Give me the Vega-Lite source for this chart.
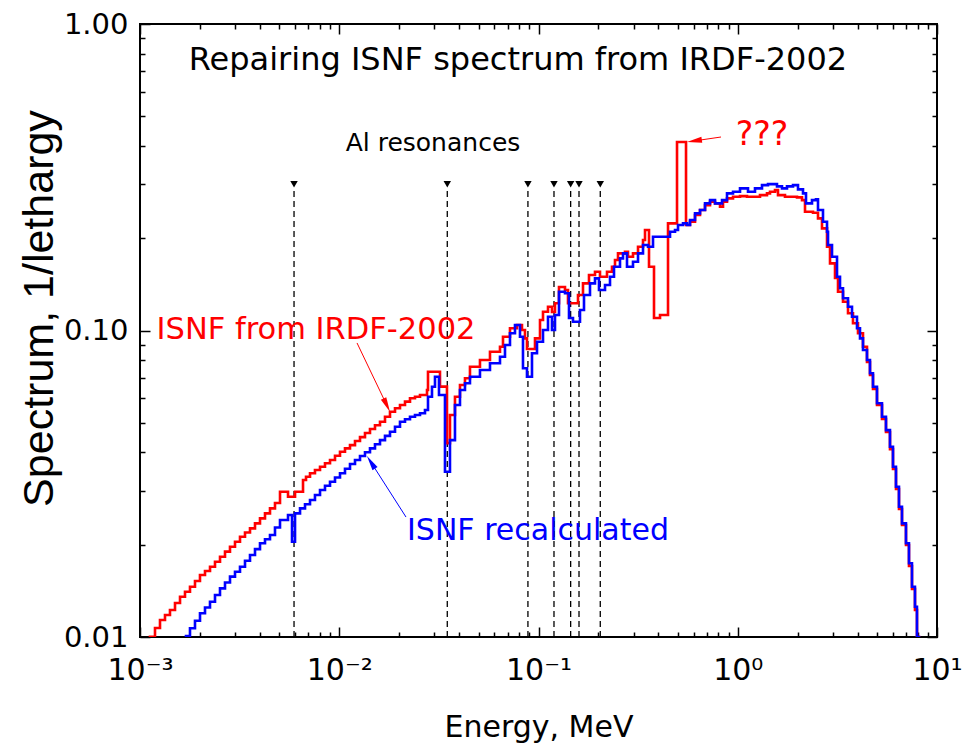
{
  "$schema": "https://vega.github.io/schema/vega-lite/v6.json",
  "width": 797,
  "height": 613,
  "autosize": {"type": "none"},
  "padding": {"left": 140, "top": 24, "right": 27, "bottom": 110},
  "background": "white",
  "config": {
    "view": {"stroke": "black", "strokeWidth": 2},
    "font": "DejaVu Sans"
  },
  "datasets": {
    "red": [
      {"E": 0.00106, "S": 0.00942}, {"E": 0.001122, "S": 0.010023}, {"E": 0.0011893, "S": 0.010699}, {"E": 0.00126, "S": 0.011364},
      {"E": 0.0013349, "S": 0.011795}, {"E": 0.001414, "S": 0.012247}, {"E": 0.0014986, "S": 0.012911}, {"E": 0.001588, "S": 0.013534},
      {"E": 0.001682, "S": 0.014054}, {"E": 0.001782, "S": 0.014589}, {"E": 0.001888, "S": 0.015231}, {"E": 0.0020, "S": 0.015937},
      {"E": 0.0021195, "S": 0.01642}, {"E": 0.002246, "S": 0.01696}, {"E": 0.002379, "S": 0.017606}, {"E": 0.002521, "S": 0.018281},
      {"E": 0.0026706, "S": 0.018987}, {"E": 0.002829, "S": 0.019703}, {"E": 0.0029977, "S": 0.020457}, {"E": 0.003176, "S": 0.021239},
      {"E": 0.003365, "S": 0.021923}, {"E": 0.003565, "S": 0.022623}, {"E": 0.0037773, "S": 0.023488}, {"E": 0.004002, "S": 0.024386},
      {"E": 0.00424, "S": 0.025321}, {"E": 0.004492, "S": 0.02629}, {"E": 0.004759, "S": 0.027359}, {"E": 0.005043, "S": 0.029789},
      {"E": 0.005532, "S": 0.028692}, {"E": 0.005999, "S": 0.029789}, {"E": 0.006579, "S": 0.032524}, {"E": 0.0068112, "S": 0.033342},
      {"E": 0.007133, "S": 0.034203}, {"E": 0.0075536, "S": 0.035053}, {"E": 0.008007, "S": 0.035941}, {"E": 0.008481, "S": 0.036876},
      {"E": 0.008988, "S": 0.037783}, {"E": 0.0095207, "S": 0.039023}, {"E": 0.010087, "S": 0.040211}, {"E": 0.010686, "S": 0.04125},
      {"E": 0.011323, "S": 0.042283}, {"E": 0.011997, "S": 0.043589}, {"E": 0.01271, "S": 0.044902}, {"E": 0.013465, "S": 0.04629},
      {"E": 0.014266, "S": 0.047699}, {"E": 0.015114, "S": 0.049052}, {"E": 0.016014, "S": 0.050398}, {"E": 0.016966, "S": 0.052329},
      {"E": 0.017976, "S": 0.054331}, {"E": 0.019046, "S": 0.055733}, {"E": 0.020178, "S": 0.057137}, {"E": 0.021379, "S": 0.058592},
      {"E": 0.02265, "S": 0.060088}, {"E": 0.023995, "S": 0.060815}, {"E": 0.025424, "S": 0.061596}, {"E": 0.027567, "S": 0.063953},
      {"E": 0.027887, "S": 0.073382}, {"E": 0.032031, "S": 0.0656}, {"E": 0.034726, "S": 0.042923}, {"E": 0.035951, "S": 0.053001},
      {"E": 0.038089, "S": 0.060815}, {"E": 0.040359, "S": 0.066402}, {"E": 0.042757, "S": 0.069833}, {"E": 0.045298, "S": 0.076185},
      {"E": 0.050847, "S": 0.080115}, {"E": 0.057083, "S": 0.085265}, {"E": 0.064079, "S": 0.088527}, {"E": 0.06634, "S": 0.095426},
      {"E": 0.071928, "S": 0.10167}, {"E": 0.077983, "S": 0.10422}, {"E": 0.082625, "S": 0.10038}, {"E": 0.08554, "S": 0.094287},
      {"E": 0.08754, "S": 0.08701}, {"E": 0.096034, "S": 0.094287}, {"E": 0.10175, "S": 0.1082}, {"E": 0.10534, "S": 0.11516},
      {"E": 0.1116, "S": 0.11957}, {"E": 0.11687, "S": 0.1149}, {"E": 0.121, "S": 0.12266}, {"E": 0.12672, "S": 0.13862},
      {"E": 0.13583, "S": 0.13554}, {"E": 0.14061, "S": 0.12266}, {"E": 0.15784, "S": 0.13055}, {"E": 0.16723, "S": 0.14253},
      {"E": 0.17924, "S": 0.15169}, {"E": 0.19211, "S": 0.15549}, {"E": 0.20352, "S": 0.14977}, {"E": 0.22071, "S": 0.15549},
      {"E": 0.23383, "S": 0.16143}, {"E": 0.24208, "S": 0.16976}, {"E": 0.25062, "S": 0.17852}, {"E": 0.27172, "S": 0.18068},
      {"E": 0.28129, "S": 0.17402}, {"E": 0.29804, "S": 0.17852}, {"E": 0.31582, "S": 0.1876}, {"E": 0.33459, "S": 0.19727},
      {"E": 0.34242, "S": 0.21266}, {"E": 0.35861, "S": 0.16143}, {"E": 0.37993, "S": 0.10984}, {"E": 0.40725, "S": 0.11234},
      {"E": 0.4467, "S": 0.22363}, {"E": 0.49566, "S": 0.4121}, {"E": 0.55003, "S": 0.2208}, {"E": 0.57604, "S": 0.22634},
      {"E": 0.61031, "S": 0.23801}, {"E": 0.64664, "S": 0.24712}, {"E": 0.6851, "S": 0.25656}, {"E": 0.72585, "S": 0.263},
      {"E": 0.76902, "S": 0.25986}, {"E": 0.81473, "S": 0.25331}, {"E": 0.84347, "S": 0.263}, {"E": 0.88337, "S": 0.2698},
      {"E": 0.94675, "S": 0.27306}, {"E": 1.0265, "S": 0.2745}, {"E": 1.1129, "S": 0.27306}, {"E": 1.2931, "S": 0.27657},
      {"E": 1.4021, "S": 0.28012}, {"E": 1.4516, "S": 0.28351}, {"E": 1.5378, "S": 0.28715}, {"E": 1.5921, "S": 0.27657},
      {"E": 1.7262, "S": 0.27306}, {"E": 1.9832, "S": 0.27183}, {"E": 2.1012, "S": 0.26638}, {"E": 2.1753, "S": 0.24398},
      {"E": 2.3859, "S": 0.24216}, {"E": 2.5278, "S": 0.23219}, {"E": 2.6473, "S": 0.21539}, {"E": 2.8054, "S": 0.1876},
      {"E": 2.9043, "S": 0.1656}, {"E": 3.0771, "S": 0.14831}, {"E": 3.1855, "S": 0.13382}, {"E": 3.3749, "S": 0.12414},
      {"E": 3.5756, "S": 0.11378}, {"E": 3.788, "S": 0.10556}, {"E": 4.0131, "S": 0.097921}, {"E": 4.2517, "S": 0.088527},
      {"E": 4.4528, "S": 0.07892}, {"E": 4.6098, "S": 0.071589}, {"E": 4.7724, "S": 0.064435}, {"E": 4.9981, "S": 0.057137},
      {"E": 5.2955, "S": 0.051431}, {"E": 5.5458, "S": 0.046665}, {"E": 5.8082, "S": 0.041032}, {"E": 6.0129, "S": 0.035323},
      {"E": 6.225, "S": 0.0304}, {"E": 6.4446, "S": 0.026152}, {"E": 6.6719, "S": 0.023193}, {"E": 6.9875, "S": 0.019962},
      {"E": 7.2339, "S": 0.017049}, {"E": 7.4891, "S": 0.014338}, {"E": 7.7532, "S": 0.012247}, {"E": 7.9345, "S": 0.0100},
      {"E": 8.12, "S": 0.0085}
    ],
    "blue": [
      {"E": 0.0016247, "S": 0.009632}, {"E": 0.0017015, "S": 0.010076}, {"E": 0.001782, "S": 0.010675}, {"E": 0.001888, "S": 0.011296},
      {"E": 0.0020004, "S": 0.011947}, {"E": 0.0021195, "S": 0.01248}, {"E": 0.0022455, "S": 0.013036}, {"E": 0.002379, "S": 0.013708},
      {"E": 0.0025205, "S": 0.014414}, {"E": 0.0026706, "S": 0.015053}, {"E": 0.0028293, "S": 0.015735}, {"E": 0.0029977, "S": 0.016334},
      {"E": 0.003176, "S": 0.01696}, {"E": 0.003365, "S": 0.017725}, {"E": 0.0035651, "S": 0.018516}, {"E": 0.0037773, "S": 0.019348},
      {"E": 0.0040019, "S": 0.020213}, {"E": 0.00424, "S": 0.020845}, {"E": 0.004492, "S": 0.021512}, {"E": 0.004759, "S": 0.022759},
      {"E": 0.0050425, "S": 0.024077}, {"E": 0.0055322, "S": 0.025}, {"E": 0.0057939, "S": 0.020457}, {"E": 0.0059985, "S": 0.025321},
      {"E": 0.0063556, "S": 0.02629}, {"E": 0.0067328, "S": 0.027114}, {"E": 0.0071326, "S": 0.02799}, {"E": 0.0075536, "S": 0.029062},
      {"E": 0.0080067, "S": 0.030172}, {"E": 0.008481, "S": 0.031139}, {"E": 0.0089875, "S": 0.032112}, {"E": 0.0095207, "S": 0.033141},
      {"E": 0.010087, "S": 0.034203}, {"E": 0.010686, "S": 0.035403}, {"E": 0.011323, "S": 0.036677}, {"E": 0.011997, "S": 0.037783},
      {"E": 0.01271, "S": 0.038933}, {"E": 0.013465, "S": 0.040059}, {"E": 0.014266, "S": 0.04125}, {"E": 0.015114, "S": 0.042561},
      {"E": 0.016014, "S": 0.043901}, {"E": 0.016966, "S": 0.045308}, {"E": 0.017976, "S": 0.046724}, {"E": 0.019046, "S": 0.048539},
      {"E": 0.020178, "S": 0.050398}, {"E": 0.021379, "S": 0.051354}, {"E": 0.02265, "S": 0.052329}, {"E": 0.023995, "S": 0.053001},
      {"E": 0.025424, "S": 0.053682}, {"E": 0.026933, "S": 0.055029}, {"E": 0.027887, "S": 0.060815}, {"E": 0.029204, "S": 0.06556},
      {"E": 0.030233, "S": 0.070677}, {"E": 0.031663, "S": 0.061596}, {"E": 0.033933, "S": 0.034617}, {"E": 0.035951, "S": 0.043901},
      {"E": 0.038089, "S": 0.057137}, {"E": 0.040359, "S": 0.063953}, {"E": 0.042757, "S": 0.067256}, {"E": 0.045298, "S": 0.070677},
      {"E": 0.050847, "S": 0.074322}, {"E": 0.057083, "S": 0.078154}, {"E": 0.064079, "S": 0.082123}, {"E": 0.067889, "S": 0.089665},
      {"E": 0.071928, "S": 0.097921}, {"E": 0.076204, "S": 0.10422}, {"E": 0.080736, "S": 0.095426}, {"E": 0.083585, "S": 0.075276},
      {"E": 0.08754, "S": 0.070677}, {"E": 0.09275, "S": 0.084247}, {"E": 0.098283, "S": 0.091912}, {"E": 0.10534, "S": 0.10038},
      {"E": 0.1116, "S": 0.11091}, {"E": 0.11687, "S": 0.10038}, {"E": 0.121, "S": 0.11234}, {"E": 0.12672, "S": 0.13382},
      {"E": 0.13583, "S": 0.13222}, {"E": 0.14225, "S": 0.10984}, {"E": 0.14897, "S": 0.10683}, {"E": 0.16153, "S": 0.11664},
      {"E": 0.16917, "S": 0.13055}, {"E": 0.18132, "S": 0.14253}, {"E": 0.19211, "S": 0.14798}, {"E": 0.20118, "S": 0.13554},
      {"E": 0.21567, "S": 0.14072}, {"E": 0.22849, "S": 0.14977}, {"E": 0.2393, "S": 0.16143}, {"E": 0.25647, "S": 0.17194},
      {"E": 0.26552, "S": 0.17852}, {"E": 0.27807, "S": 0.16143}, {"E": 0.29804, "S": 0.16761}, {"E": 0.31582, "S": 0.17852},
      {"E": 0.33459, "S": 0.19001}, {"E": 0.35449, "S": 0.1876}, {"E": 0.37557, "S": 0.20222}, {"E": 0.45715, "S": 0.20996},
      {"E": 0.48434, "S": 0.21266}, {"E": 0.50142, "S": 0.2208}, {"E": 0.53127, "S": 0.22363}, {"E": 0.55641, "S": 0.2208},
      {"E": 0.57604, "S": 0.22925}, {"E": 0.61031, "S": 0.24107}, {"E": 0.64664, "S": 0.24712}, {"E": 0.6851, "S": 0.25986},
      {"E": 0.72585, "S": 0.26638}, {"E": 0.76902, "S": 0.25986}, {"E": 0.83378, "S": 0.26638}, {"E": 0.88337, "S": 0.28012},
      {"E": 0.94675, "S": 0.28351}, {"E": 1.0265, "S": 0.29084}, {"E": 1.1258, "S": 0.28351}, {"E": 1.2206, "S": 0.29084},
      {"E": 1.3234, "S": 0.29815}, {"E": 1.4184, "S": 0.3004}, {"E": 1.5738, "S": 0.29525}, {"E": 1.6674, "S": 0.29084},
      {"E": 1.7666, "S": 0.29525}, {"E": 1.8937, "S": 0.29815}, {"E": 2.0063, "S": 0.28866}, {"E": 2.1256, "S": 0.28012},
      {"E": 2.2006, "S": 0.25986}, {"E": 2.3585, "S": 0.26638}, {"E": 2.4701, "S": 0.26779}, {"E": 2.5278, "S": 0.24712},
      {"E": 2.678, "S": 0.22634}, {"E": 2.8054, "S": 0.20996}, {"E": 2.838, "S": 0.19001}, {"E": 2.9722, "S": 0.17402},
      {"E": 3.149, "S": 0.14977}, {"E": 3.26, "S": 0.13728}, {"E": 3.3749, "S": 0.12735}, {"E": 3.5756, "S": 0.11957},
      {"E": 3.7445, "S": 0.11091}, {"E": 3.967, "S": 0.10167}, {"E": 4.1069, "S": 0.094287}, {"E": 4.2517, "S": 0.08636},
      {"E": 4.4528, "S": 0.080115}, {"E": 4.6098, "S": 0.072505}, {"E": 4.7724, "S": 0.06556}, {"E": 4.9981, "S": 0.057871},
      {"E": 5.2955, "S": 0.052329}, {"E": 5.5458, "S": 0.047323}, {"E": 5.8082, "S": 0.041745}, {"E": 6.0129, "S": 0.035941},
      {"E": 6.225, "S": 0.030929}, {"E": 6.4446, "S": 0.026608}, {"E": 6.6719, "S": 0.023488}, {"E": 6.9875, "S": 0.020213},
      {"E": 7.2339, "S": 0.017399}, {"E": 7.4891, "S": 0.014589}, {"E": 7.7532, "S": 0.012555}, {"E": 7.9345, "S": 0.0100},
      {"E": 8.12, "S": 0.0085}
    ],
    "res": [{"E": 0.00593}, {"E": 0.03485}, {"E": 0.0885}, {"E": 0.1196}, {"E": 0.145}, {"E": 0.1597}, {"E": 0.2042}],
    "redArrows": [
      {"E": 0.012279, "S": 0.091053, "E2": 0.017324, "S2": 0.05705},
      {"E": 0.82406, "S": 0.42785, "E2": 0.60595, "S2": 0.41552}
    ],
    "blueArrow": [{"E": 0.021627, "S": 0.024626, "E2": 0.014431, "S2": 0.037154}]
  },
  "layer": [
    {
      "data": {"name": "res"},
      "mark": {"type": "rule", "color": "black", "strokeWidth": 1.3, "strokeDash": [6, 4]},
      "encoding": {
        "x": {"field": "E", "type": "quantitative", "scale": {"type": "log", "domain": [0.001, 10], "nice": false}, "axis": null},
        "y": {"datum": 0.01, "type": "quantitative", "scale": {"type": "log", "domain": [0.01, 1], "nice": false}, "axis": null},
        "y2": {"datum": 0.287}
      }
    },
    {
      "data": {"name": "res"},
      "mark": {"type": "point", "shape": "triangle-down", "filled": true, "color": "black", "size": 55, "opacity": 1},
      "encoding": {
        "x": {"field": "E", "type": "quantitative", "axis": null},
        "y": {"datum": 0.3, "type": "quantitative", "axis": null}
      }
    },
    {
      "data": {"name": "red"},
      "mark": {"type": "line", "interpolate": "step-after", "color": "#ff0000", "strokeWidth": 2.6, "clip": true},
      "encoding": {
        "x": {
          "field": "E", "type": "quantitative",
          "axis": {
            "orient": "bottom",
            "values": [0.001, 0.002, 0.003, 0.004, 0.005, 0.006, 0.007, 0.008, 0.009, 0.01, 0.02, 0.03, 0.04, 0.05, 0.06, 0.07, 0.08, 0.09, 0.1, 0.2, 0.3, 0.4, 0.5, 0.6, 0.7, 0.8, 0.9, 1, 2, 3, 4, 5, 6, 7, 8, 9, 10],
            "labelExpr": "datum.value == 0.001 ? '10⁻³' : datum.value == 0.01 ? '10⁻²' : datum.value == 0.1 ? '10⁻¹' : datum.value == 1 ? '10⁰' : datum.value == 10 ? '10¹' : ''",
            "tickSize": {"condition": {"test": "datum.value == 0.001 || datum.value == 0.01 || datum.value == 0.1 || datum.value == 1 || datum.value == 10", "value": -10}, "value": -5},
            "tickColor": "black", "tickWidth": 1.5, "domain": false, "grid": false,
            "labelFont": "DejaVu Sans", "labelFontSize": 30, "labelColor": "black", "labelPadding": 28,
            "labelBaseline": "top", "labelOverlap": false, "labelFlush": false,
            "title": "Energy, MeV", "titleFont": "DejaVu Sans", "titleFontSize": 30, "titleFontWeight": "normal",
            "titleColor": "black", "titleBaseline": "alphabetic", "titleY": 99
          }
        },
        "y": {
          "field": "S", "type": "quantitative",
          "axis": {
            "orient": "left",
            "values": [0.01, 0.02, 0.03, 0.04, 0.05, 0.06, 0.07, 0.08, 0.09, 0.1, 0.2, 0.3, 0.4, 0.5, 0.6, 0.7, 0.8, 0.9, 1],
            "labelExpr": "datum.value == 0.01 ? '0.01' : datum.value == 0.1 ? '0.10' : datum.value == 1 ? '1.00' : ''",
            "tickSize": {"condition": {"test": "datum.value == 0.01 || datum.value == 0.1 || datum.value == 1", "value": -10}, "value": -5},
            "tickColor": "black", "tickWidth": 1.5, "domain": false, "grid": false,
            "labelFont": "DejaVu Sans", "labelFontSize": 29, "labelColor": "black", "labelPadding": 22,
            "labelBaseline": "middle", "labelOverlap": false, "labelFlush": false,
            "title": "Spectrum,  1/lethargy", "titleFont": "Liberation Sans", "titleFontSize": 43, "titleFontWeight": "normal",
            "titleColor": "black", "titleBaseline": "alphabetic", "titleAlign": "center", "titleAngle": -90, "titleX": -88, "titleY": 284
          }
        }
      }
    },
    {
      "data": {"name": "blue"},
      "mark": {"type": "line", "interpolate": "step-after", "color": "#0000ff", "strokeWidth": 2.6, "clip": true},
      "encoding": {
        "x": {
          "field": "E", "type": "quantitative",
          "axis": {
            "orient": "top",
            "values": [0.001, 0.002, 0.003, 0.004, 0.005, 0.006, 0.007, 0.008, 0.009, 0.01, 0.02, 0.03, 0.04, 0.05, 0.06, 0.07, 0.08, 0.09, 0.1, 0.2, 0.3, 0.4, 0.5, 0.6, 0.7, 0.8, 0.9, 1, 2, 3, 4, 5, 6, 7, 8, 9, 10],
            "labels": false, "title": null, "domain": false, "grid": false,
            "tickSize": {"condition": {"test": "datum.value == 0.001 || datum.value == 0.01 || datum.value == 0.1 || datum.value == 1 || datum.value == 10", "value": -10}, "value": -5},
            "tickColor": "black", "tickWidth": 1.5
          }
        },
        "y": {
          "field": "S", "type": "quantitative",
          "axis": {
            "orient": "right",
            "values": [0.01, 0.02, 0.03, 0.04, 0.05, 0.06, 0.07, 0.08, 0.09, 0.1, 0.2, 0.3, 0.4, 0.5, 0.6, 0.7, 0.8, 0.9, 1],
            "labels": false, "title": null, "domain": false, "grid": false,
            "tickSize": {"condition": {"test": "datum.value == 0.01 || datum.value == 0.1 || datum.value == 1", "value": -10}, "value": -5},
            "tickColor": "black", "tickWidth": 1.5
          }
        }
      }
    },
    {
      "data": {"name": "redArrows"},
      "mark": {"type": "rule", "color": "#ff0000", "strokeWidth": 1},
      "encoding": {
        "x": {"field": "E", "type": "quantitative", "axis": null},
        "y": {"field": "S", "type": "quantitative", "axis": null},
        "x2": {"field": "E2"},
        "y2": {"field": "S2"}
      }
    },
    {
      "data": {"name": "blueArrow"},
      "mark": {"type": "rule", "color": "#0000ff", "strokeWidth": 1},
      "encoding": {
        "x": {"field": "E", "type": "quantitative", "axis": null},
        "y": {"field": "S", "type": "quantitative", "axis": null},
        "x2": {"field": "E2"},
        "y2": {"field": "S2"}
      }
    },
    {
      "data": {"values": [{"E": 0.017324, "S": 0.05705}]},
      "mark": {"type": "point", "shape": "M0,-1L0.4,1L-0.4,1Z", "filled": true, "color": "#ff0000", "size": 225, "angle": 154.4, "opacity": 1},
      "encoding": {
        "x": {"field": "E", "type": "quantitative", "axis": null},
        "y": {"field": "S", "type": "quantitative", "axis": null}
      }
    },
    {
      "data": {"values": [{"E": 0.014431, "S": 0.037154}]},
      "mark": {"type": "point", "shape": "M0,-1L0.4,1L-0.4,1Z", "filled": true, "color": "#0000ff", "size": 225, "angle": 327.4, "opacity": 1},
      "encoding": {
        "x": {"field": "E", "type": "quantitative", "axis": null},
        "y": {"field": "S", "type": "quantitative", "axis": null}
      }
    },
    {
      "data": {"values": [{"E": 0.60595, "S": 0.41552}]},
      "mark": {"type": "point", "shape": "M0,-1L0.4,1L-0.4,1Z", "filled": true, "color": "#ff0000", "size": 225, "angle": 261.6, "opacity": 1},
      "encoding": {
        "x": {"field": "E", "type": "quantitative", "axis": null},
        "y": {"field": "S", "type": "quantitative", "axis": null}
      }
    },
    {
      "data": {"values": [{"E": 0.07889, "S": 0.7631, "label": "Repairing ISNF spectrum from IRDF-2002"}]},
      "mark": {"type": "text", "font": "DejaVu Sans", "fontSize": 32, "color": "black", "align": "center", "baseline": "middle"},
      "encoding": {
        "x": {"field": "E", "type": "quantitative", "axis": null},
        "y": {"field": "S", "type": "quantitative", "axis": null},
        "text": {"field": "label"}
      }
    },
    {
      "data": {"values": [{"E": 0.029546, "S": 0.40902, "label": "Al resonances"}]},
      "mark": {"type": "text", "font": "DejaVu Sans", "fontSize": 25, "color": "black", "align": "center", "baseline": "middle"},
      "encoding": {
        "x": {"field": "E", "type": "quantitative", "axis": null},
        "y": {"field": "S", "type": "quantitative", "axis": null},
        "text": {"field": "label"}
      }
    },
    {
      "data": {"values": [{"E": 0.007643, "S": 0.10038, "label": "ISNF from IRDF-2002"}]},
      "mark": {"type": "text", "font": "DejaVu Sans", "fontSize": 30.5, "color": "#ff0000", "align": "center", "baseline": "middle"},
      "encoding": {
        "x": {"field": "E", "type": "quantitative", "axis": null},
        "y": {"field": "S", "type": "quantitative", "axis": null},
        "text": {"field": "label"}
      }
    },
    {
      "data": {"values": [{"E": 0.09942, "S": 0.02217, "label": "ISNF recalculated"}]},
      "mark": {"type": "text", "font": "DejaVu Sans", "fontSize": 30, "color": "#0000ff", "align": "center", "baseline": "middle"},
      "encoding": {
        "x": {"field": "E", "type": "quantitative", "axis": null},
        "y": {"field": "S", "type": "quantitative", "axis": null},
        "text": {"field": "label"}
      }
    },
    {
      "data": {"values": [{"E": 1.3234, "S": 0.43433, "label": "???"}]},
      "mark": {"type": "text", "font": "DejaVu Sans", "fontSize": 33, "color": "#ff0000", "align": "center", "baseline": "middle"},
      "encoding": {
        "x": {"field": "E", "type": "quantitative", "axis": null},
        "y": {"field": "S", "type": "quantitative", "axis": null},
        "text": {"field": "label"}
      }
    }
  ],
  "resolve": {"axis": {"x": "independent", "y": "independent"}}
}
